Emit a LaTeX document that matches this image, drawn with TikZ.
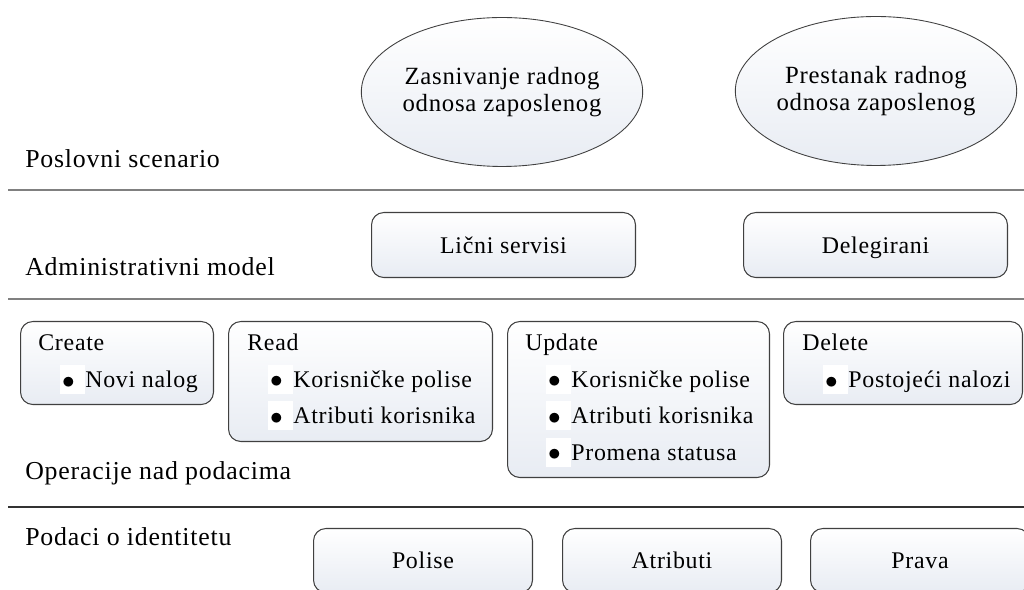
\documentclass[tikz,border=0pt]{standalone}
\usepackage{fontspec}
\setmainfont{Liberation Serif}[LetterSpace=3]
\usetikzlibrary{shapes.geometric}

\definecolor{boxline}{RGB}{64,64,64}
\definecolor{boxblue}{RGB}{232,236,243}
\definecolor{sepgray}{RGB}{128,128,128}
\definecolor{sepdark}{RGB}{50,50,50}

\tikzset{
  every node/.style={font=\fontsize{13.6}{15.4}\selectfont},
  fixedline/.style={text height=0.96em, text depth=0.05em},
  gradfill/.style={top color=white, bottom color=boxblue},
  scenario/.style={ellipse, draw=boxline, line width=0.5pt, gradfill, minimum width=5.3cm, minimum height=2.98cm, align=center, inner sep=0pt, font=\fontsize{14.1}{15.6}\selectfont},
  layerbox/.style={draw=boxline, line width=0.6pt, rounded corners=7pt, gradfill, anchor=north west, inner sep=0pt, fixedline},
  layername/.style={anchor=west, inner sep=0pt, fixedline, font=\fontsize{14.7}{16}\selectfont},
  itemtext/.style={anchor=west, inner sep=0pt, fixedline},
  bulletbox/.style={fill=white, anchor=west, inner sep=0pt, text width=0.5cm, text height=0.46cm, text depth=0.12cm, align=left},
  sepline/.style={draw=sepgray, line width=1.1pt},
  septhin/.style={draw=sepdark, line width=0.7pt}
}

\begin{document}
\begin{tikzpicture}[x=0.02cm, y=-0.02cm]
  \useasboundingbox (0,0) rectangle (1024,590);

  % layer separators
  \draw[sepline] (8,190) -- (1024,190);
  \draw[sepline] (8,299) -- (1024,299);
  \draw[septhin] (8,507) -- (1024,507);

  % layer names
  \node[layername] (lscen) at (25,160) {Poslovni scenario};
  \node[layername] (ladm) at (25,268) {Administrativni model};
  \node[layername] (lops) at (25,472) {Operacije nad podacima};
  \node[layername] (lid) at (25,538) {Podaci o identitetu};

  % business scenarios
  \node[scenario] (zasn) at (502,92) {Zasnivanje radnog\\odnosa zaposlenog};
  \node[scenario] (prest) at (876,91) {Prestanak radnog\\odnosa zaposlenog};

  % administrative model
  \node[layerbox, minimum width=5.28cm, minimum height=1.3cm] (licni) at (371,212) {Lični servisi};
  \node[layerbox, minimum width=5.28cm, minimum height=1.3cm] (deleg) at (743,212) {Delegirani};

  % data operations
  \node[layerbox, minimum width=3.86cm, minimum height=1.66cm] (create) at (20,321) {};
  \node[itemtext] (createt) at (38,343) {Create};
  \node[bulletbox] (createb1) at (60,380) {\hspace{1pt}$\bullet$};
  \node[itemtext] (create1) at (85,380) {Novi nalog};

  \node[layerbox, minimum width=5.28cm, minimum height=2.4cm] (read) at (228,321) {};
  \node[itemtext] (readt) at (247,343) {Read};
  \foreach \txt [count=\i] in {Korisničke polise, Atributi korisnika} {
    \node[bulletbox] (readb\i) at (268,343+36.5*\i) {\hspace{1pt}$\bullet$};
    \node[itemtext] (read\i) at (293,343+36.5*\i) {\txt};
  }

  \node[layerbox, minimum width=5.24cm, minimum height=3.12cm] (update) at (507,321) {};
  \node[itemtext] (updatet) at (525,343) {Update};
  \foreach \txt [count=\i] in {Korisničke polise, Atributi korisnika, Promena statusa} {
    \node[bulletbox] (updateb\i) at (546,343+36.5*\i) {\hspace{1pt}$\bullet$};
    \node[itemtext] (update\i) at (571,343+36.5*\i) {\txt};
  }

  \node[layerbox, minimum width=4.78cm, minimum height=1.66cm] (delete) at (783,321) {};
  \node[itemtext] (deletet) at (802,343) {Delete};
  \node[bulletbox] (deleteb1) at (823,380) {\hspace{1pt}$\bullet$};
  \node[itemtext] (delete1) at (848,380) {Postojeći nalozi};

  % identity data
  \node[layerbox, minimum width=4.38cm, minimum height=1.28cm] (polise) at (313,528) {Polise};
  \node[layerbox, minimum width=4.38cm, minimum height=1.28cm] (atrib) at (562,528) {Atributi};
  \node[layerbox, minimum width=4.38cm, minimum height=1.28cm] (prava) at (810,528) {Prava};
\end{tikzpicture}
\end{document}
